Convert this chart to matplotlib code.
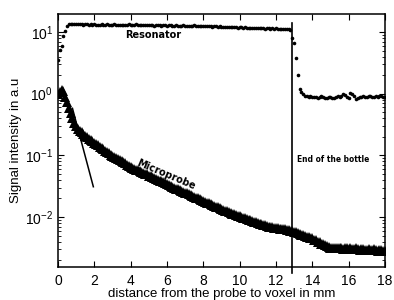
import numpy as np
import matplotlib.pyplot as plt

plt.rcParams['font.family'] = ['Liberation Sans', 'DejaVu Sans']
plt.rcParams['mathtext.fontset'] = 'custom'
plt.rcParams['mathtext.rm'] = 'Liberation Sans'

# distance in mm, 0.1 mm steps
x = np.linspace(0, 18, 181)

resonator = [
    3.5, 5.2, 6.0, 8.5, 10.5, 12.5, 13.5,
    13.6, 13.4, 13.5, 13.3, 13.4, 13.6, 13.3, 13.2, 13.4, 13.3,
    13.2, 13.4, 13.1, 13.3, 13.2, 13.0, 13.2, 13.4, 13.1, 13.2,
    13.3, 13.1, 13.0, 13.2, 13.5, 13.1, 13.0, 13.2, 13.1, 12.9,
    13.0, 13.2, 13.4, 13.0, 12.9, 13.1, 13.3, 12.9, 13.0, 12.8,
    13.0, 13.1, 12.9, 12.8, 13.0, 12.9, 12.7, 12.9, 13.0, 12.8,
    12.7, 12.9, 12.8, 12.6, 12.8, 12.9, 12.7, 12.6, 12.8, 12.7,
    12.5, 12.7, 12.9, 12.6, 12.5, 12.7, 12.4, 12.6, 12.8, 12.5,
    12.4, 12.6, 12.5, 12.3, 12.5, 12.4, 12.6, 12.3, 12.2, 12.4,
    12.3, 12.1, 12.3, 12.2, 12.0, 12.2, 12.1, 11.9, 12.1, 12.0,
    11.9, 12.1, 11.8, 12.0, 11.9, 11.7, 11.9, 11.8, 11.6, 11.8,
    11.7, 11.5, 11.7, 11.6, 11.4, 11.6, 11.5, 11.3, 11.5, 11.4,
    11.3, 11.5, 11.2, 11.4, 11.3, 11.1, 11.3, 11.2, 11.0, 11.2,
    11.0, 10.6, 8.0, 6.6, 3.8, 2.0, 1.2, 1.05,
    0.97, 0.93, 0.92, 0.90, 0.91, 0.88, 0.90, 0.87, 0.85, 0.89,
    0.92, 0.88, 0.86, 0.84, 0.87, 0.90, 0.86, 0.85, 0.88, 0.91,
    0.87, 0.93, 0.98, 0.95, 0.89, 0.86, 1.02, 0.97, 0.92, 0.83,
    0.86, 0.90, 0.88, 0.92, 0.89, 0.87, 0.91, 0.93, 0.88, 0.90,
    0.92, 0.89, 0.91, 0.93, 0.90, 0.88,
]

microprobe = [
    1.00, 1.05, 1.15, 1.10, 0.88, 0.72, 0.58, 0.48, 0.40, 0.34,
    0.30, 0.27, 0.25, 0.235, 0.22, 0.205, 0.195, 0.185, 0.176, 0.168,
    0.160, 0.152, 0.145, 0.138, 0.131, 0.125, 0.119, 0.113, 0.108, 0.103,
    0.098, 0.094, 0.090, 0.087, 0.083, 0.080, 0.077, 0.074, 0.071, 0.068,
    0.065, 0.063, 0.061, 0.059, 0.057, 0.055, 0.053, 0.052, 0.050, 0.049,
    0.047, 0.046, 0.044, 0.043, 0.042, 0.040, 0.039, 0.038, 0.037, 0.0355,
    0.034, 0.033, 0.032, 0.031, 0.030, 0.029, 0.0283, 0.0275, 0.0266, 0.0258,
    0.025, 0.0243, 0.0235, 0.0228, 0.0221, 0.0214, 0.0207, 0.0201, 0.0195, 0.0189,
    0.0183, 0.0178, 0.0172, 0.0167, 0.0162, 0.0157, 0.0152, 0.0148, 0.0143, 0.0139,
    0.0135, 0.0131, 0.0127, 0.0124, 0.0120, 0.0117, 0.0114, 0.0111, 0.0108, 0.0105,
    0.0103, 0.0100, 0.0098, 0.0095, 0.0093, 0.0091, 0.0088, 0.0086, 0.0084, 0.0082,
    0.0080, 0.0078, 0.0076, 0.0075, 0.0073, 0.0072, 0.0070, 0.0069, 0.0068, 0.0067,
    0.0066, 0.0066, 0.0065, 0.0065, 0.0064, 0.0063, 0.0062, 0.0061, 0.0060, 0.0059,
    0.0058, 0.0057, 0.0055, 0.0054, 0.0052, 0.0051, 0.0050, 0.0048, 0.0047, 0.0046,
    0.0045, 0.0043, 0.0042, 0.0040, 0.0039, 0.0037, 0.0036, 0.0035, 0.0034, 0.0033,
    0.0032, 0.0031, 0.0032, 0.0031, 0.0031, 0.0032, 0.0031, 0.0030, 0.0031, 0.0031,
    0.0030, 0.0031, 0.0030, 0.0030, 0.0031, 0.0030, 0.0029, 0.0030, 0.0030, 0.0029,
    0.0029, 0.0030, 0.0029, 0.0029, 0.0030, 0.0029, 0.0028, 0.0029, 0.0029, 0.0028,
    0.0028,
]

# straight fit of the first decay
fit_x = [0.8, 1.95]
fit_y = [0.58, 0.031]

bottle_end = 12.9

fig = plt.figure(figsize=(3.94, 3.0), dpi=100)
ax = fig.add_axes([0.147, 0.11, 0.83, 0.843])

ax.semilogy(x, resonator, 'o', color='black', ms=2.6, mec='black', mew=0)
ax.semilogy(x, microprobe, '^', color='black', ms=6.5, mec='black', mew=0)
ax.plot(fit_x, fit_y, '-', color='black', lw=1.1)
ax.plot([bottle_end, bottle_end], [1.25e-3, 14], '-', color='black', lw=1.2, clip_on=False)

ax.text(3.7, 8.9, 'Resonator', fontsize=7, fontweight='bold', family='DejaVu Sans',
        ha='left', va='center')
ax.text(5.95, 0.049, 'Microprobe', fontsize=7, fontweight='bold', family='DejaVu Sans',
        ha='center', va='center', rotation=-23)
ax.text(13.15, 0.086, 'End of the bottle', fontsize=6, fontweight='bold',
        family='DejaVu Sans', fontstretch='condensed', ha='left', va='center')

ax.set_xlim(0, 18)
ax.set_ylim(1.55e-3, 19.5)
ax.set_xticks(range(0, 19, 2))
ax.tick_params(which='both', direction='in', top=True, right=True, labelsize=10)
ax.tick_params(axis='x', pad=5)
ax.tick_params(which='major', length=4)
ax.tick_params(which='minor', length=2)
for s in ax.spines.values():
    s.set_linewidth(1.1)

ax.set_xlabel('distance from the probe to voxel in mm', fontsize=9.5, labelpad=0)
ax.set_ylabel('Signal intensity in a.u', fontsize=9.5, labelpad=2)

fig.savefig('out.png', dpi=100)
